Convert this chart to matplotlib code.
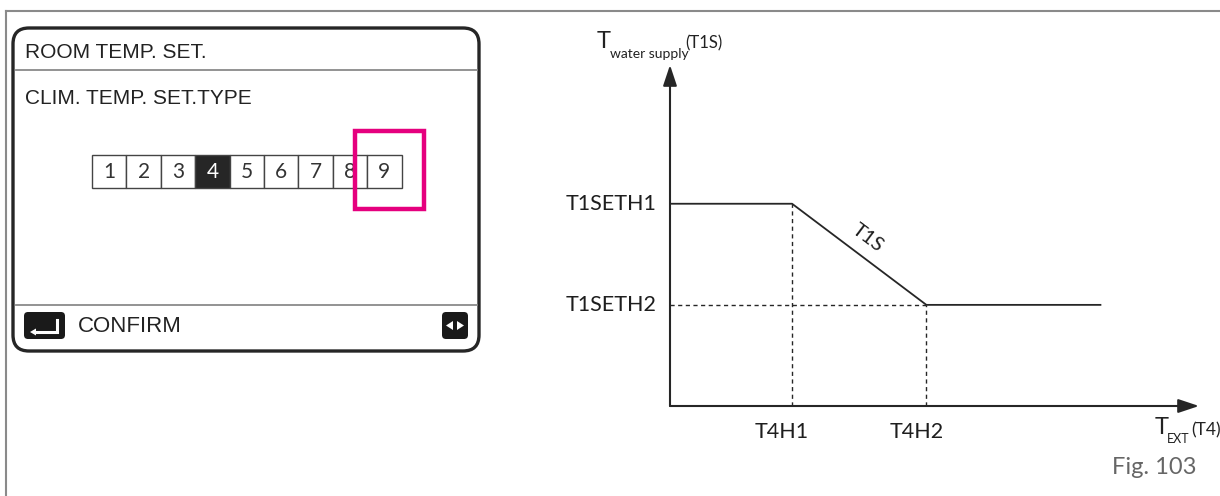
import matplotlib
matplotlib.use('Agg')
import matplotlib.pyplot as plt
from matplotlib.patches import FancyBboxPatch, Rectangle, Polygon

'''
DATOS
'''
# Pantalla de ajuste
titulo = 'ROOM TEMP. SET.'
subtitulo = 'CLIM. TEMP. SET.TYPE'
opciones = [1, 2, 3, 4, 5, 6, 7, 8, 9]
seleccion = 4
resaltado = 9
confirmar = 'CONFIRM'

# Curva climática (unidades arbitrarias)
t4_puntos = [0.0, 3.0, 6.3, 10.6]
t1s_puntos = [5.0, 5.0, 2.5, 2.5]
t4_marcas = [3.0, 6.3]
t4_etiquetas = ['T4H1', 'T4H2']
t1s_marcas = [5.0, 2.5]
t1s_etiquetas = ['T1SETH1', 'T1SETH2']
x_max, y_max = 13.0, 8.43

W, H = 1220, 496
oscuro = '#262626'
gris = '#8a8a8a'
magenta = '#e5007e'
fuente_ui = 'Liberation Sans'
fuente = 'Lato'

fig = plt.figure(figsize=(W / 100, H / 100), dpi=100)

# Capa en píxeles para el marco y la pantalla
ui = fig.add_axes([0, 0, 1, 1])
ui.set_xlim(0, W)
ui.set_ylim(H, 0)
ui.axis('off')

# Marco exterior
ui.plot([6, W], [11, 11], color=gris, lw=1.5)
ui.plot([6, 6], [11, H], color=gris, lw=1.5)

# Panel redondeado
ui.add_patch(FancyBboxPatch((13, 28), 466, 323, boxstyle='round,pad=0,rounding_size=16',
                            fc='white', ec=oscuro, lw=2.4))
ui.plot([16, 477], [70, 70], color=gris, lw=1.3)
ui.plot([16, 477], [305, 305], color=gris, lw=1.3)
ui.text(25, 52, titulo, family=fuente_ui, fontsize=15, color='#222', va='center')
ui.text(25, 99, subtitulo, family=fuente_ui, fontsize=15, color='#222', va='center')

# Casillas de opciones
x0, ancho, y_top, alto = 92, 34.4, 155, 33
for i, n in enumerate(opciones):
    xi = x0 + i * ancho
    activo = n == seleccion
    ui.add_patch(Rectangle((xi, y_top), ancho, alto, fc=oscuro if activo else 'white',
                           ec='#444', lw=1.0))
    ui.text(xi + ancho / 2, y_top + alto / 2 + 1, str(n), family=fuente, fontsize=15,
            color='white' if activo else '#333', ha='center', va='center')

# Marco magenta sobre la opción resaltada
ir = opciones.index(resaltado)
xr = x0 + ir * ancho
ui.add_patch(Rectangle((xr - 12, 131), 69, 78, fc='none', ec=magenta, lw=3.2, zorder=5))

# Iconos inferiores
ui.add_patch(FancyBboxPatch((24, 312), 41, 27, boxstyle='round,pad=0,rounding_size=4',
                            fc='#1a1a1a', ec='none'))
ui.plot([35, 57, 57], [332, 332, 320], color='white', lw=2.2, solid_joinstyle='miter')
ui.add_patch(Polygon([[30, 332], [36, 328.5], [36, 335.5]], closed=True, fc='white', ec='none'))
ui.text(78, 326, confirmar, family=fuente_ui, fontsize=16, color='#222', va='center')

ui.add_patch(FancyBboxPatch((442, 312), 26, 27, boxstyle='round,pad=0,rounding_size=4',
                            fc='#1a1a1a', ec='none'))
ui.add_patch(Polygon([[446, 325.5], [453, 321], [453, 330]], closed=True, fc='white', ec='none'))
ui.add_patch(Polygon([[464, 325.5], [457, 321], [457, 330]], closed=True, fc='white', ec='none'))

# Etiquetas de ejes (compuestas)
ui.text(597, 41, 'T', family=fuente, fontsize=17, color='#222', va='center')
ui.text(610, 54, 'water supply', family=fuente, fontsize=10, color='#222', va='center')
ui.text(685, 43, '(T1S)', family=fuente, fontsize=12, color='#222', va='center')
ui.text(1155, 428, 'T', family=fuente, fontsize=17, color='#222', va='center')
ui.text(1167, 439, 'EXT', family=fuente, fontsize=9, color='#222', va='center')
ui.text(1191, 430, '(T4)', family=fuente, fontsize=12.5, color='#222', va='center')
ui.text(1197, 468, 'Fig. 103', family=fuente, fontsize=17, color='#666', va='center', ha='right')

# Gráfico de la curva
ax = fig.add_axes([670 / W, (H - 406) / H, 529 / W, 341 / H])
ax.set_xlim(0, x_max)
ax.set_ylim(0, y_max)
ax.patch.set_alpha(0)
for s in ax.spines.values():
    s.set_visible(False)
ax.set_xticks([])
ax.set_yticks([])

ax.plot(t4_puntos, t1s_puntos, color=oscuro, lw=1.3, solid_capstyle='butt')
guion = (0, (3, 2.5))
ax.plot([t4_marcas[0]] * 2, [0, t1s_marcas[0]], color=oscuro, lw=1.0, linestyle=guion)
ax.plot([t4_marcas[1]] * 2, [0, t1s_marcas[1]], color=oscuro, lw=1.0, linestyle=guion)
ax.plot([0, t4_marcas[1]], [t1s_marcas[1]] * 2, color=oscuro, lw=1.0, linestyle=guion)

flecha = dict(arrowstyle='-|>,head_length=0.9,head_width=0.3', color=oscuro, lw=1.5,
              shrinkA=0, shrinkB=0, mutation_scale=14)
ax.annotate('', xy=(x_max, 0), xytext=(0, 0), arrowprops=flecha, annotation_clip=False)
ax.annotate('', xy=(0, y_max), xytext=(0, 0), arrowprops=flecha, annotation_clip=False)

for yv, lab in zip(t1s_marcas, t1s_etiquetas):
    ax.text(-0.32, yv, lab, family=fuente, fontsize=15.5, color='#1e1e1e', ha='right', va='center')
for xv, lab in zip(t4_marcas, t4_etiquetas):
    ax.text(xv - 0.25, -0.64, lab, family=fuente, fontsize=15.5, color='#1e1e1e',
            ha='center', va='center')

ax.text(4.85, 4.15, 'T1S', family=fuente, fontsize=14.5, color='#1e1e1e', rotation=-37,
        ha='center', va='center', rotation_mode='anchor')

fig.savefig('out.png', dpi=100)
